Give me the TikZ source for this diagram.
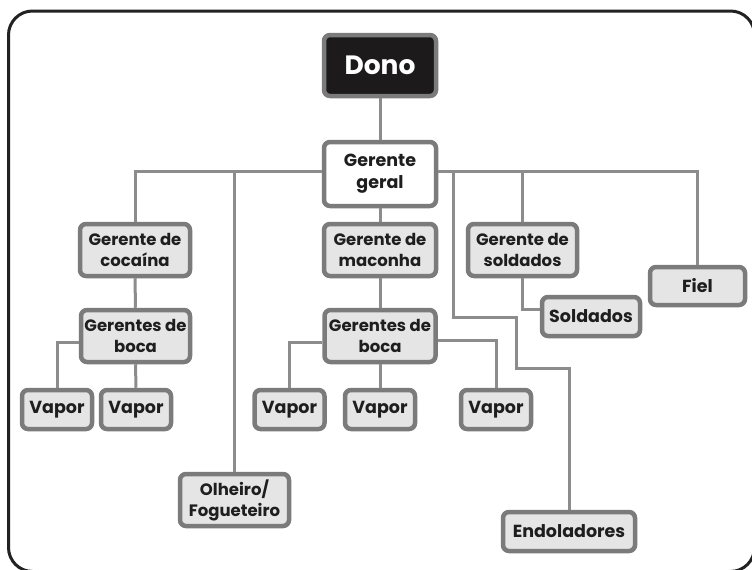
\documentclass[tikz,border=0pt]{standalone}
\usepackage{fontspec}
\setmainfont{Poppins}
\usetikzlibrary{positioning}
\definecolor{bordergray}{HTML}{7B7B7B}
\definecolor{linegray}{HTML}{8C8C8C}
\definecolor{boxfill}{HTML}{E5E5E5}
\definecolor{donofill}{HTML}{1C1A1B}
\definecolor{txt}{HTML}{1E1E1E}
\definecolor{framecol}{HTML}{222222}
\tikzset{
  orgbox/.style={draw=bordergray, line width=4.5pt, fill=boxfill, rounded corners=6pt,
    inner sep=0pt, align=center, text=txt, font=\bfseries\fontsize{16.5}{21}\selectfont},
  bigbox/.style={orgbox, font=\bfseries\fontsize{17.5}{20}\selectfont},
  conn/.style={draw=linegray, line width=3pt},
}
\begin{document}
\begin{tikzpicture}[x=1pt,y=-1pt]
\useasboundingbox (0,0) rectangle (752,570);
\begin{scope}
\clip (0,0) rectangle (752,570);
\draw[framecol, line width=3pt, rounded corners=24pt] (8.5,11) rectangle (754.5,571.5);
\end{scope}
% nodes
\node[orgbox, fill=donofill, text=white, minimum width=112pt, minimum height=61pt,
  font=\bfseries\fontsize{26.5}{28}\selectfont] (dono) at (380,65.5) {Dono};
\node[orgbox, fill=white, minimum width=112pt, minimum height=64pt,
  font=\bfseries\fontsize{17.5}{22}\selectfont] (geral) at (380,174) {Gerente\\geral};
\node[orgbox, minimum width=110pt, minimum height=52pt] (coca) at (135,250) {Gerente de\\cocaína};
\node[orgbox, minimum width=112pt, minimum height=52pt] (macon) at (380,250) {Gerente de\\maconha};
\node[orgbox, minimum width=109pt, minimum height=52pt] (sold) at (522.5,250) {Gerente de\\soldados};
\node[bigbox, minimum width=95pt, minimum height=38pt] (fiel) at (697.5,286) {Fiel};
\node[bigbox, minimum width=98pt, minimum height=39pt] (soldados) at (591,316.5) {Soldados};
\node[orgbox, minimum width=109pt, minimum height=52pt] (bocaL) at (135.5,336) {Gerentes de\\boca};
\node[orgbox, minimum width=111pt, minimum height=52pt] (bocaM) at (380,336) {Gerentes de\\boca};
\node[bigbox, minimum width=70pt, minimum height=39pt] (vL1) at (57,409.5) {Vapor};
\node[bigbox, minimum width=70pt, minimum height=39pt] (vL2) at (136,409.5) {Vapor};
\node[bigbox, minimum width=70pt, minimum height=39pt] (vM1) at (289.5,409.5) {Vapor};
\node[bigbox, minimum width=70pt, minimum height=39pt] (vM2) at (380,409.5) {Vapor};
\node[bigbox, minimum width=70pt, minimum height=39pt] (vM3) at (496,409.5) {Vapor};
\node[orgbox, minimum width=109pt, minimum height=52pt] (olh) at (234.5,500) {Olheiro/\\Fogueteiro};
\node[bigbox, minimum width=132pt, minimum height=39pt] (endo) at (569,531.5) {Endoladores};
% connectors
\draw[conn] (dono.south) -- (geral.north);
\draw[conn] (geral.south) -- (macon.north);
\draw[conn] ([yshift=3pt]geral.west) -| (coca.north);
\draw[conn] ([yshift=3pt]geral.west) -| (olh.north);
\draw[conn] ([yshift=3pt]geral.east) -| (fiel.north);
\draw[conn] ([yshift=3pt]geral.east) -| (sold.north);
\draw[conn] ([yshift=3pt]geral.east) -| (453,317) -| (516,368) -| (endo.north);
\draw[conn] (sold.south) |- ([yshift=7pt]soldados.west);
\draw[conn] (coca.south) -- (bocaL.north);
\draw[conn] (macon.south) -- (bocaM.north);
\draw[conn] ([yshift=-6pt]bocaL.west) -| (vL1.north);
\draw[conn] (bocaL.south) -- (vL2.north);
\draw[conn] ([yshift=-6pt]bocaM.west) -| (vM1.north);
\draw[conn] (bocaM.south) -- (vM2.north);
\draw[conn] ([yshift=-4pt]bocaM.east) -| (vM3.north);
\end{tikzpicture}
\end{document}
